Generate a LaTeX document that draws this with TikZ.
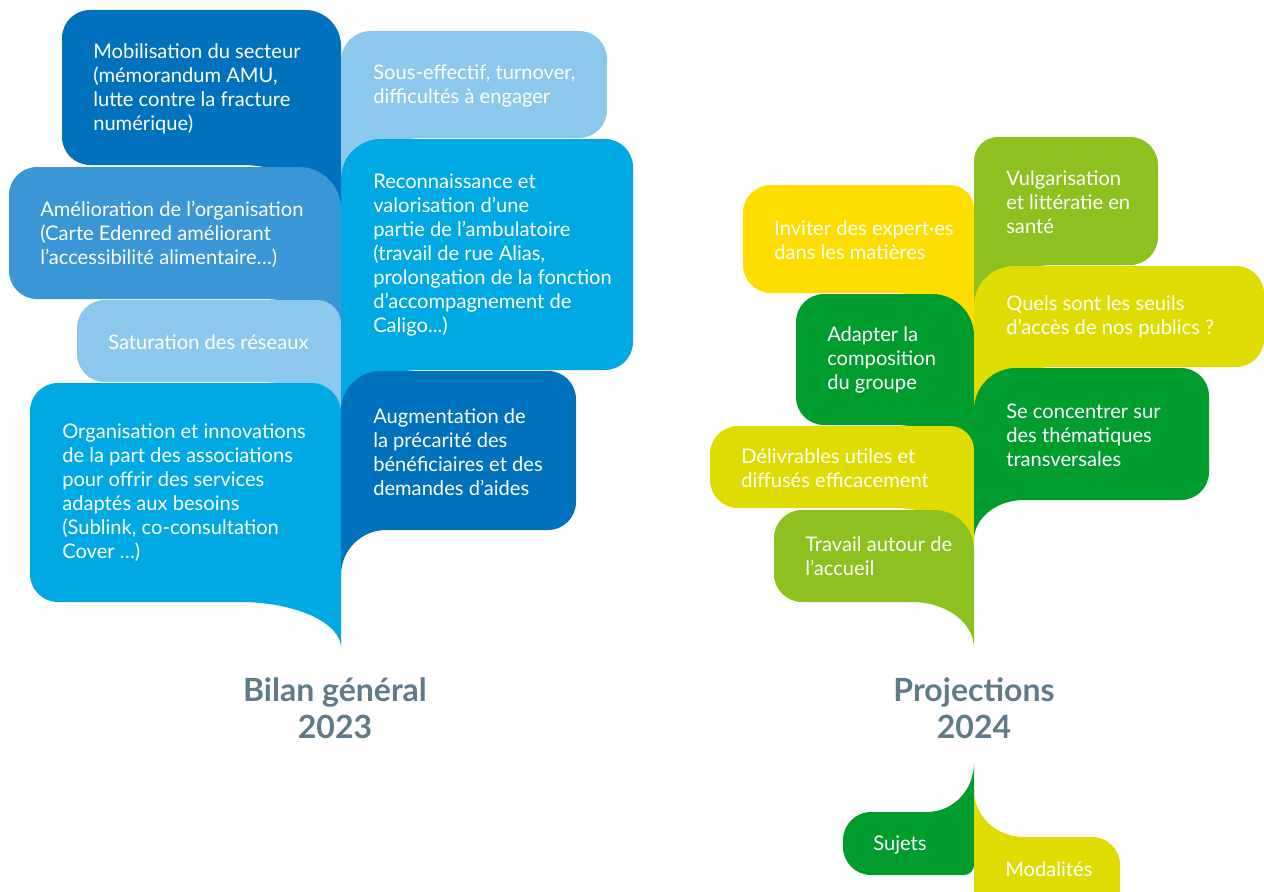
\documentclass[tikz,border=0pt]{standalone}
\usepackage{fontspec}
\setmainfont{Lato}
\definecolor{bleufonce}{HTML}{0071BC}
\definecolor{bleumoyen}{HTML}{3A96D5}
\definecolor{bleuclair}{HTML}{8CC7EC}
\definecolor{bleuvif}{HTML}{00A9E3}
\definecolor{jaune}{HTML}{FFDD00}
\definecolor{vertclair}{HTML}{8CC11F}
\definecolor{jaunevert}{HTML}{DEDC00}
\definecolor{vert}{HTML}{009D2E}
\definecolor{gris}{HTML}{5F7B88}
% leaf with its tail on the right: colour, stem, x left, y top, y bottom, tail end, tail width, corner
\newcommand{\feuilleG}[8]{%
        \fill[#1] (#2,#6) -- (#2,{#4+#8}) arc[start angle=0, end angle=-90, radius=#8]
                -- ({#3+28},#4) arc[start angle=270, end angle=180, radius=28]
                -- (#3,{#5-28}) arc[start angle=180, end angle=90, radius=28]
                -- ({#2-#7},#5) .. controls ({#2-0.45*#7},#5) and (#2,{#6-0.55*(#6-#5)}) .. (#2,#6) -- cycle;}
% leaf with its tail on the left: colour, stem, x right, y top, y bottom, tail end, tail width, corner
\newcommand{\feuilleD}[8]{%
        \fill[#1] (#2,#6) -- (#2,{#4+#8}) arc[start angle=180, end angle=270, radius=#8]
                -- ({#3-28},#4) arc[start angle=-90, end angle=0, radius=28]
                -- (#3,{#5-28}) arc[start angle=0, end angle=90, radius=28]
                -- ({#2+#7},#5) .. controls ({#2+0.45*#7},#5) and (#2,{#6-0.55*(#6-#5)}) .. (#2,#6) -- cycle;}
\begin{document}
\begin{tikzpicture}[x=0.75pt, y=-0.75pt,
        txt/.style={text=white, align=left, anchor=west, inner sep=0pt,
                font=\fontsize{15.1}{18}\selectfont},
        titre/.style={text=gris, align=center, inner sep=0pt,
                font=\bfseries\fontsize{24}{27.75}\selectfont}]
        \useasboundingbox (0,0) rectangle (1264,892);
        % Bilan 2023
        \feuilleG{bleufonce}{341}{62}{10}{165}{240}{100}{36}
        \feuilleG{bleumoyen}{341}{9}{167}{299}{340}{80}{42}
        \feuilleG{bleuclair}{341}{77}{300}{382}{440}{80}{24}
        \feuilleG{bleuvif}{341}{30}{383}{602}{648}{101}{30}
        \feuilleD{bleuclair}{341}{607}{31}{138}{220}{80}{30}
        \feuilleD{bleuvif}{341}{633}{139}{370}{430}{80}{40}
        \feuilleD{bleufonce}{341}{576}{371}{530}{575}{45}{40}
        \node[txt] (mobilisation) at (93,89) {Mobilisation du secteur\\(mémorandum AMU,\\lutte contre la fracture\\numérique)};
        \node[txt] (amelioration) at (40,234) {Amélioration de l’organisation\\(Carte Edenred améliorant\\l’accessibilité alimentaire…)};
        \node[txt] (saturation) at (108,342) {Saturation des réseaux};
        \node[txt] (organisation) at (62,493) {Organisation et innovations\\de la part des associations\\pour offrir des services\\adaptés aux besoins\\(Sublink, co-consultation\\Cover …)};
        \node[txt] (souseffectif) at (373,86) {Sous-effectif, turnover,\\difficultés à engager};
        \node[txt] (reconnaissance) at (373,255) {Reconnaissance et\\valorisation d’une\\partie de l’ambulatoire\\(travail de rue Alias,\\prolongation de la fonction\\d’accompagnement de\\Caligo...)};
        \node[txt] (augmentation) at (373,452) {Augmentation de\\la précarité des\\bénéficiaires et des\\demandes d’aides};
        \node[titre] (bilan) at (335,708) {Bilan général\\2023};
        % Projections 2024
        \feuilleG{jaune}{974}{743}{185}{293}{360}{80}{24}
        \feuilleG{vert}{974}{796}{294}{425}{480}{80}{42}
        \feuilleG{jaunevert}{974}{710}{426}{508}{560}{80}{24}
        \feuilleG{vertclair}{974}{774}{510}{602}{648}{62}{40}
        \feuilleD{vertclair}{974}{1158}{137}{265}{330}{80}{24}
        \feuilleD{jaunevert}{974}{1264}{266}{367}{430}{80}{40}
        \feuilleD{vert}{974}{1209}{368}{500}{540}{50}{42}
        \node[txt] (inviter) at (774,240) {Inviter des expert·es\\dans les matières};
        \node[txt] (adapter) at (827,360) {Adapter la\\composition\\du groupe};
        \node[txt] (delivrables) at (741,468) {Délivrables utiles et\\diffusés efficacement};
        \node[txt] (travail) at (805,556) {Travail autour de\\l’accueil};
        \node[txt] (vulgarisation) at (1006,202) {Vulgarisation\\et littératie en\\santé};
        \node[txt] (seuils) at (1006,317) {Quels sont les seuils\\d’accès de nos publics ?};
        \node[txt] (thematiques) at (1006,435) {Se concentrer sur\\des thématiques\\transversales};
        \node[titre] (projections) at (974,708) {Projections\\2024};
        % Sujets / Modalites
        \fill[vert] (974,763) -- (974,865) arc[start angle=0, end angle=90, radius=10]
                -- (871,875) arc[start angle=90, end angle=180, radius=28]
                -- (843,840) arc[start angle=180, end angle=270, radius=28]
                -- (927,812) .. controls (953,812) and (974,790) .. (974,763) -- cycle;
        \fill[jaunevert] (974,790) .. controls (974,816) and (996,837) .. (1024,837)
                -- (1092,837) arc[start angle=-90, end angle=0, radius=28]
                -- (1120,892) -- (974,892) -- cycle;
        \node[txt, anchor=center] (sujets) at (900,845) {Sujets};
        \node[txt] (modalites) at (1005,869) {Modalités};
\end{tikzpicture}
\end{document}
